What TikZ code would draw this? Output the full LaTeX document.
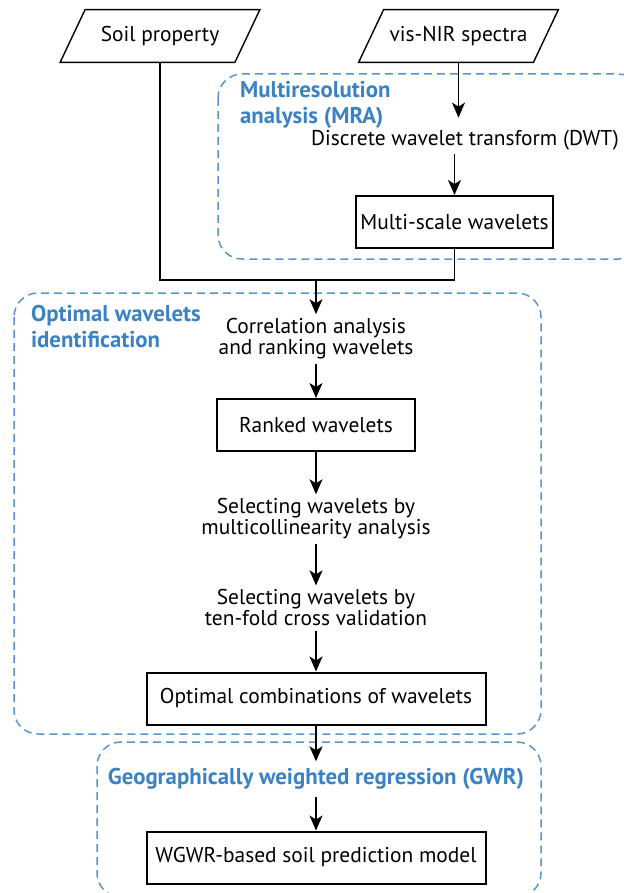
\documentclass[tikz,border=0pt]{standalone}
\usepackage{fontspec}
\setmainfont{PT Sans}
\usepackage{xcolor}
\usetikzlibrary{arrows.meta, positioning, shapes.geometric}
\definecolor{mrablue}{RGB}{58,130,196}
\begin{document}
\begin{tikzpicture}[
    x=0.5pt, y=-0.5pt,
    font=\fontsize{10.7}{10.5}\selectfont,
    box/.style={draw, line width=1pt, inner sep=0pt, minimum height=26pt},
    datain/.style={inner sep=0pt, minimum width=87pt, minimum height=26pt},
    slanted/.style={line width=0.7pt, line join=miter},
    stage/.style={align=center, inner sep=2pt},
    region/.style={draw=mrablue!85, dash pattern=on 4pt off 2.5pt,
                   line width=0.75pt, rounded corners=12pt},
    regiontitle/.style={text=mrablue, align=left,
                        font=\fontsize{11.4}{13}\selectfont\bfseries},
    flow/.style={-{Stealth[length=7.5pt, width=6.5pt, inset=2pt]}, line width=0.65pt},
    link/.style={line width=0.65pt},
  ]
  \useasboundingbox (0,0) rectangle (624,893);
  \clip (0,0) rectangle (624,893);

  % inputs
  \node[datain] (soil) at (160,36) {Soil property};
  \node[datain] (nir) at (458.5,36) {vis-NIR spectra};
  \draw[slanted] ([xshift=6.25pt]soil.north west) -- ([xshift=6.25pt]soil.north east)
    -- ([xshift=-6.25pt]soil.south east) -- ([xshift=-6.25pt]soil.south west) -- cycle;
  \draw[slanted] ([xshift=6.25pt]nir.north west) -- ([xshift=6.25pt]nir.north east)
    -- ([xshift=-6.25pt]nir.south east) -- ([xshift=-6.25pt]nir.south west) -- cycle;

  % MRA
  \draw[region] (218,74) rectangle (642,259);
  \node[regiontitle, anchor=west] (mra) at (233,105) {Multiresolution\\analysis (MRA)};
  \node[stage] (dwt) at (465,140) {Discrete wavelet transform (DWT)};
  \node[box, minimum width=98.5pt] (scale) at (454.5,222) {Multi-scale wavelets};
  \draw[flow, shorten >=4pt] (nir) -- (nir |- dwt.north);
  \draw[flow] (scale.north |- dwt.south) -- (scale);

  % joining both inputs
  \coordinate (join) at (316,280);
  \draw[link] (soil) |- (join);
  \draw[link] (scale) |- (join);

  % optimal wavelets identification
  \draw[region] (14,293) rectangle (541,734);
  \node[regiontitle, anchor=west] (owi) at (24,327) {Optimal wavelets\\identification};
  \node[stage] (corr) at (316,339) {Correlation analysis\\and ranking wavelets};
  \node[box, minimum width=99pt] (rank) at (316,425) {Ranked wavelets};
  \node[stage] (multi) at (316,519) {Selecting wavelets by\\multicollinearity analysis};
  \node[stage] (cross) at (316,608) {Selecting wavelets by\\ten-fold cross validation};
  \node[box, minimum width=169.5pt] (comb) at (316,698.5) {Optimal combinations of wavelets};
  \draw[flow] (join) -- (corr);
  \draw[flow] (corr) -- (rank);
  \draw[flow] (rank) -- (multi);
  \draw[flow] (multi) -- (cross);
  \draw[flow] (cross) -- (comb);

  % GWR
  \draw[region] (97,742) rectangle (541,897);
  \node[regiontitle] (gwr) at (316,779) {Geographically weighted regression (GWR)};
  \node[box, minimum width=169.5pt] (model) at (316,857.5) {WGWR-based soil prediction model};
  \draw[flow] (comb) -- (gwr);
  \draw[flow] (gwr) -- (model);
\end{tikzpicture}
\end{document}
